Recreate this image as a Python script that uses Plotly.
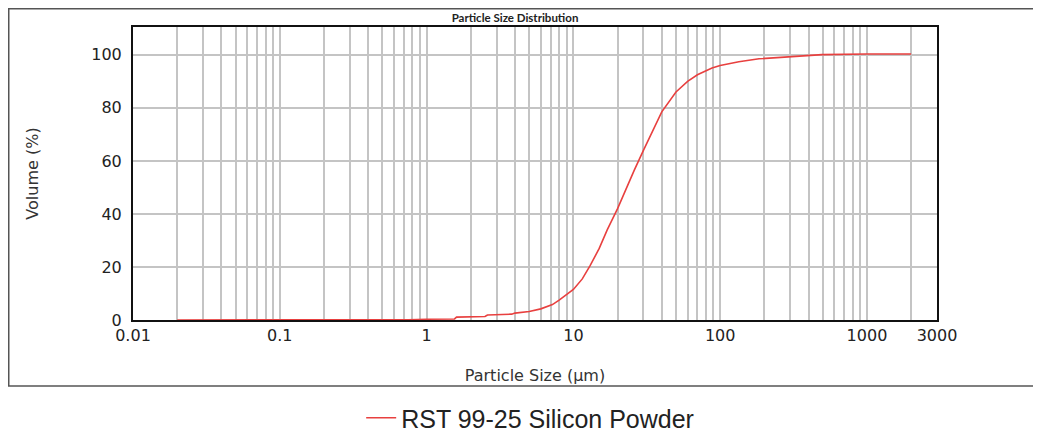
import plotly.graph_objects as go

# ---- data ----
size_um = [0.02, 0.05, 0.1, 0.3, 0.75, 1.0, 1.55, 1.6, 2.5, 2.6, 3.8, 4.0, 5.0, 6.0,
           7.2, 8.0, 9.0, 10, 11.5, 13, 15, 17, 20, 23, 26, 30, 35, 40, 50, 60,
           70, 88, 100, 134, 184, 295, 494, 1000, 2000]
volume_pct = [0, 0, 0, 0, 0.1, 0.3, 0.4, 1.1, 1.3, 1.9, 2.2, 2.6, 3.2, 4.2,
              5.8, 7.5, 9.6, 11.5, 15.5, 20.5, 27, 34, 42, 50, 56.5, 64, 72, 78.5, 86, 90,
              92.5, 95, 96, 97.4, 98.5, 99.2, 100.1, 100.3, 100.3]
series_name = "RST 99-25 Silicon Powder"

x_tickvals = [0.01, 0.1, 1, 10, 100, 1000, 3000]
x_ticktext = ["0.01", "0.1", "1", "10", "100", "1000", "3000"]
y_tickvals = [0, 20, 40, 60, 80, 100]

minor_vals = [m * 10 ** e for e in range(-2, 4) for m in range(2, 10) if m * 10 ** e < 3000]

fig = go.Figure()
fig.add_trace(go.Scatter(
    x=size_um, y=volume_pct, mode="lines", name=series_name,
    line=dict(color="#e8403f", width=1.6),
))

grid_col = "#c4c4c4"
tick_font = dict(family="DejaVu Sans", size=16, color="#222222")
title_font = dict(family="DejaVu Sans", size=16, color="#333333")

W, H = 1033, 427  # page body has an 8px margin
L, T, PW, PH = 125, 19, 804, 293

fig.update_layout(
    width=W, height=H,
    margin=dict(l=L, r=W - L - PW, t=T, b=H - T - PH, autoexpand=False),
    paper_bgcolor="white", plot_bgcolor="white",
    title=dict(text="<b>Particle Size Distribution</b>", x=507 / W, xanchor="center",
               y=1 - 9.5 / H, yanchor="middle", automargin=False,
               font=dict(family="Lato", size=11.5, color="#222222")),
    showlegend=True,
    legend=dict(x=0.494, xanchor="center", y=(T + PH - 410) / PH, yanchor="middle",
                font=dict(family="Liberation Sans", size=25, color="#222222"),
                bgcolor="rgba(0,0,0,0)"),
    xaxis=dict(
        type="log", range=[-2, 3.4771], automargin=False,
        tickvals=x_tickvals, ticktext=x_ticktext,
        showgrid=True, gridcolor=grid_col, gridwidth=1.5,
        minor=dict(tickvals=minor_vals, showgrid=True, gridcolor=grid_col, gridwidth=1.5,
                   ticks=""),
        showline=True, mirror=True, linecolor="#111111", linewidth=2,
        ticks="outside", ticklen=0, tickcolor="rgba(0,0,0,0)",
        tickfont=tick_font,
        title=dict(text="Particle Size (µm)", font=title_font, standoff=26),
        zeroline=False,
    ),
    yaxis=dict(
        range=[0, 110.5], tickvals=y_tickvals, automargin=False,
        showgrid=True, gridcolor=grid_col, gridwidth=1.5,
        showline=True, mirror=True, linecolor="#111111", linewidth=2,
        ticks="outside", ticklen=6, tickcolor="rgba(0,0,0,0)",
        tickfont=tick_font,
        title=dict(text="Volume (%)", font=title_font, standoff=49),
        zeroline=False,
    ),
    shapes=[dict(type="rect", xref="paper", yref="paper",
                 x0=(0.75 - L) / PW, x1=(W + 5 - L) / PW,
                 y0=(T + PH - 378) / PH, y1=(T + PH - 0.75) / PH,
                 line=dict(color="#555555", width=1.5), layer="below")],
)

fig.write_html("out.html")
